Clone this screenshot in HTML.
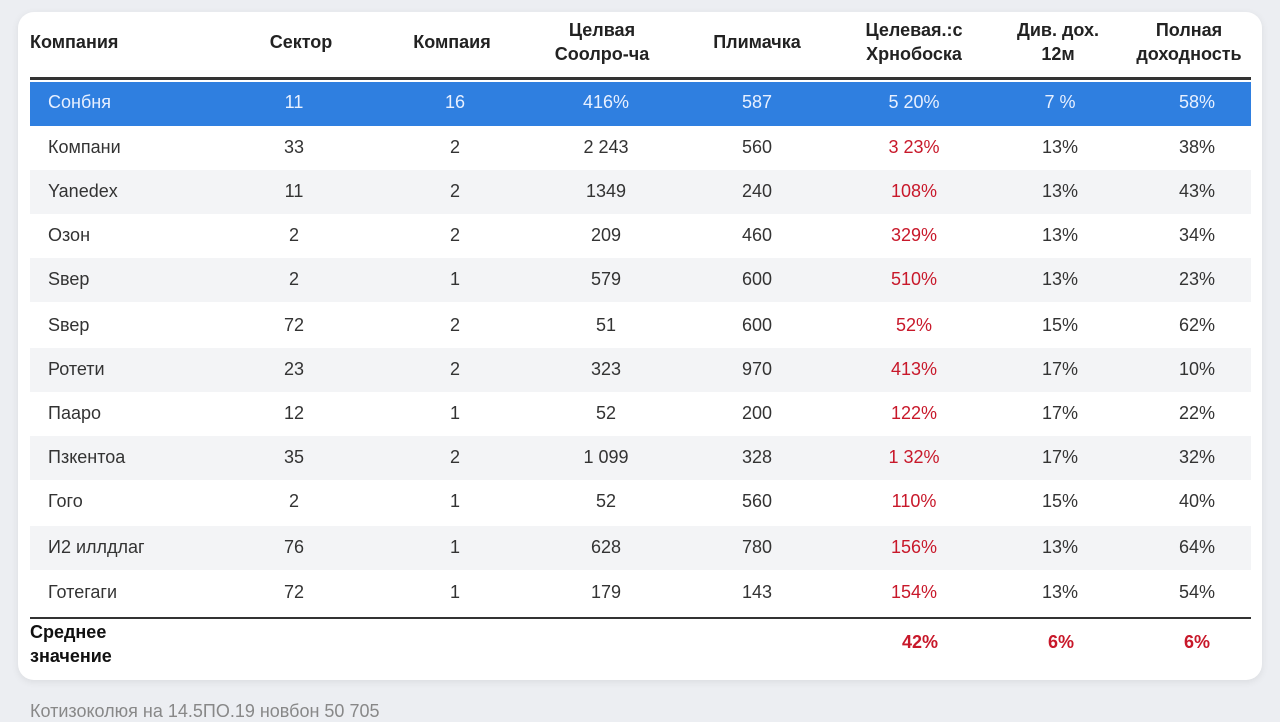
<!DOCTYPE html>
<html><head><meta charset="utf-8"><style>
body{margin:0;width:1280px;height:720px;background:#eceef2;font-family:"Liberation Sans","DejaVu Sans",sans-serif;position:relative;overflow:hidden}
.card{position:absolute;left:18px;top:12px;width:1244px;height:668px;background:#fff;border-radius:16px;box-shadow:0 2px 8px rgba(0,0,0,.08)}
.t{position:absolute;font-size:18px;color:#333;transform:translateX(-50%);white-space:nowrap}
.h{position:absolute;font-size:18px;font-weight:bold;color:#222;text-align:center;transform:translate(-50%,-50%);line-height:24px;white-space:nowrap}
.band{position:absolute;left:30px;width:1221px;height:44px;background:#f3f4f6}
.r{color:#c8182a}
.w{color:#e8f0ff}
</style></head><body>
<div class="card"></div>
<div class="h" style="left:30px;top:42px;transform:translateY(-50%);text-align:left">Компания</div>
<div class="h" style="left:301px;top:42px">Сектор</div>
<div class="h" style="left:452px;top:42px">Компаия</div>
<div class="h" style="left:602px;top:42px">Целвая<br>Соолро-ча</div>
<div class="h" style="left:757px;top:42px">Плимачка</div>
<div class="h" style="left:914px;top:42px">Целевая.:с<br>Хрнобоска</div>
<div class="h" style="left:1058px;top:42px">Див. дох.<br>12м</div>
<div class="h" style="left:1189px;top:42px">Полная<br>доходность</div>
<div style="position:absolute;left:30px;top:77px;width:1221px;height:3px;background:#333"></div>
<div style="position:absolute;left:30px;top:82px;width:1221px;height:44px;background:#2f7fe0"></div>
<div class="band" style="top:170px"></div>
<div class="band" style="top:258px"></div>
<div class="band" style="top:348px"></div>
<div class="band" style="top:436px"></div>
<div class="band" style="top:526px"></div>
<div id="rows"></div>
<div style="position:absolute;left:30px;top:617px;width:1221px;height:2px;background:#333"></div>
<div style="position:absolute;left:30px;top:620px;font-size:18px;font-weight:bold;color:#111;line-height:24px">Среднее<br>значение</div>
<div class="t r" style="left:920px;top:632px;font-weight:bold">42%</div>
<div class="t r" style="left:1061px;top:632px;font-weight:bold">6%</div>
<div class="t r" style="left:1197px;top:632px;font-weight:bold">6%</div>
<div style="position:absolute;left:30px;top:701px;font-size:18px;color:#888">Котизоколюя на 14.5ПО.19 новбон 50 705</div>
<script>
var d=[["Сонбня","11","16","416%","587","5 20%","7 %","58%"],
["Компани","33","2","2 243","560","3 23%","13%","38%"],
["Yanedex","11","2","1349","240","108%","13%","43%"],
["Озон","2","2","209","460","329%","13%","34%"],
["Sвер","2","1","579","600","510%","13%","23%"],
["Sвер","72","2","51","600","52%","15%","62%"],
["Ротети","23","2","323","970","413%","17%","10%"],
["Паapo","12","1","52","200","122%","17%","22%"],
["Пзкентоа","35","2","1 099","328","1 32%","17%","32%"],
["Гого","2","1","52","560","110%","15%","40%"],
["И2 иллдлаг","76","1","628","780","156%","13%","64%"],
["Готегаги","72","1","179","143","154%","13%","54%"]];
var ys=[103,148,192,236,280,326,370,414,458,502,548,593];
var xs=[0,294,455,606,757,914,1060,1197];
var h="";
d.forEach(function(r,i){var y=ys[i]-11;
r.forEach(function(c,j){var cls="t"+(i==0?" w":(j==5?" r":""));
if(j==0)h+='<div class="'+cls+'" style="left:48px;top:'+y+'px;transform:none">'+c+'</div>';
else h+='<div class="'+cls+'" style="left:'+xs[j]+'px;top:'+y+'px">'+c+'</div>';});});
document.getElementById("rows").innerHTML=h;
</script>
</body></html>
